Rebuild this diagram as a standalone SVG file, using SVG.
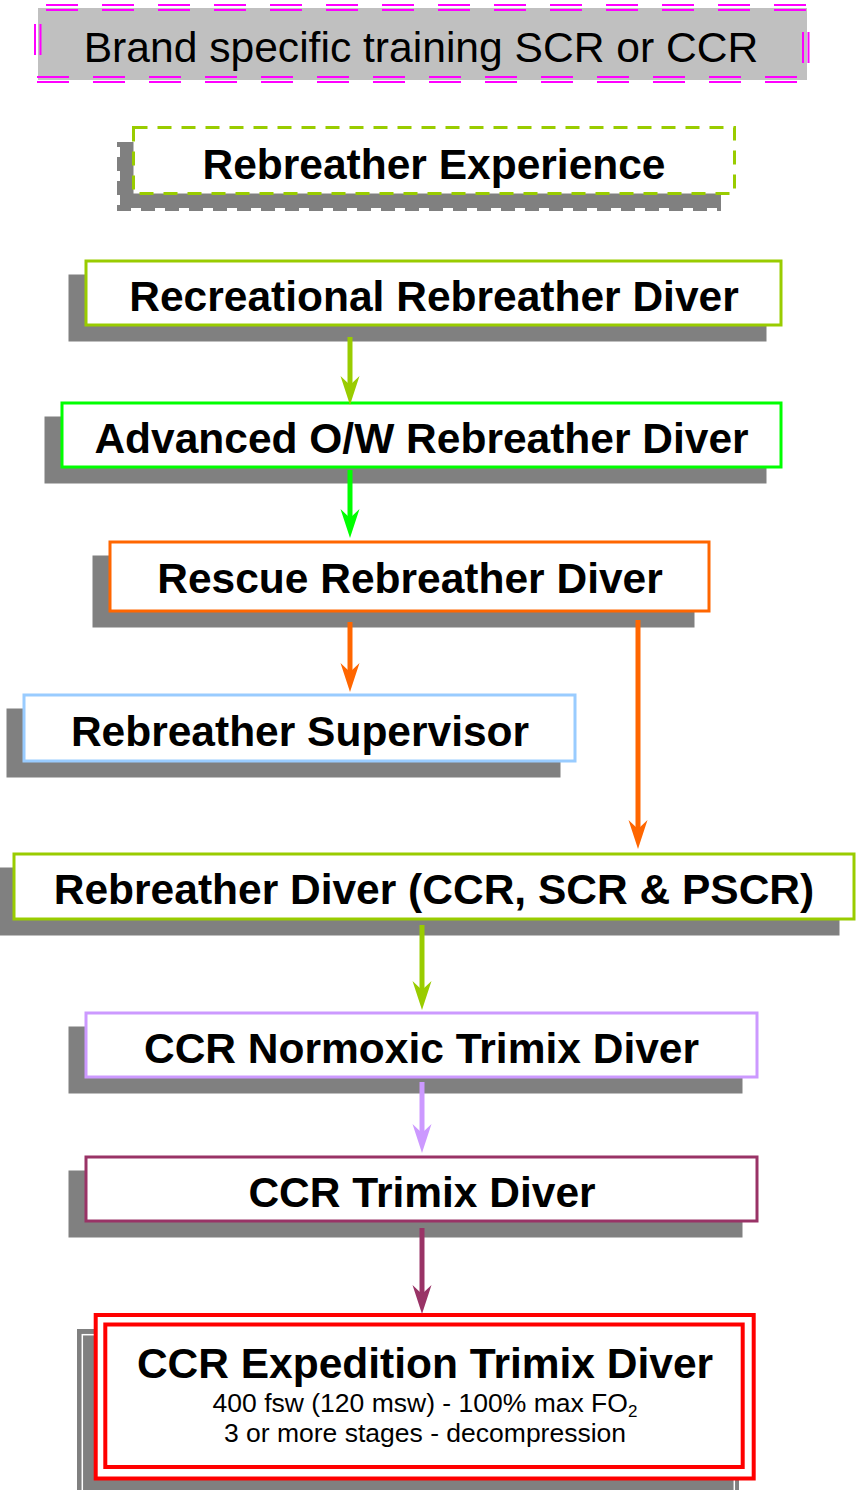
<svg xmlns="http://www.w3.org/2000/svg" width="861" height="1490" viewBox="0 0 861 1490">
<style>
.sh{fill:#808080}
.box{fill:#fff;stroke-width:3}
.t{font-family:"Liberation Sans",Arial,sans-serif;font-weight:bold;font-size:42.5px;text-anchor:middle;fill:#000}
.s{font-family:"Liberation Sans",Arial,sans-serif;font-size:26.5px;text-anchor:middle;fill:#000}
.mg{stroke:#ff00ff;stroke-width:2;fill:none}
.c{fill:none;stroke-width:5}
</style>
<defs>
<marker id="aG" markerUnits="userSpaceOnUse" markerWidth="30" markerHeight="20" viewBox="0 -10 30 20" refX="11" refY="0" orient="auto"><path d="M0,-9.5 L29,0 L0,9.5 L9,0 Z" fill="#99cc00"/></marker>
<marker id="aB" markerUnits="userSpaceOnUse" markerWidth="30" markerHeight="20" viewBox="0 -10 30 20" refX="11" refY="0" orient="auto"><path d="M0,-9.5 L29,0 L0,9.5 L9,0 Z" fill="#00ff00"/></marker>
<marker id="aO" markerUnits="userSpaceOnUse" markerWidth="30" markerHeight="20" viewBox="0 -10 30 20" refX="11" refY="0" orient="auto"><path d="M0,-9.5 L29,0 L0,9.5 L9,0 Z" fill="#ff6600"/></marker>
<marker id="aL" markerUnits="userSpaceOnUse" markerWidth="30" markerHeight="20" viewBox="0 -10 30 20" refX="11" refY="0" orient="auto"><path d="M0,-9.5 L29,0 L0,9.5 L9,0 Z" fill="#cc99ff"/></marker>
<marker id="aP" markerUnits="userSpaceOnUse" markerWidth="30" markerHeight="20" viewBox="0 -10 30 20" refX="11" refY="0" orient="auto"><path d="M0,-9.5 L29,0 L0,9.5 L9,0 Z" fill="#993366"/></marker>
</defs>

<g id="brand">
<rect x="38" y="8" width="769" height="72" fill="#c0c0c0"/>
<path class="mg" stroke-dasharray="32 24" d="M46,5 H808 M46,10 H808"/>
<path class="mg" stroke-dasharray="32 24" d="M37,82 H808 M37,77 H808"/>
<path class="mg" d="M35,24 V55 M40.5,24 V55 M803,32 V63 M808.5,32 V63"/>
<text x="421" y="62" font-family="Liberation Sans, Arial, sans-serif" font-size="42.6" text-anchor="middle">Brand specific training SCR or CCR</text>
</g>

<g id="experience">
<rect x="120" y="145" width="598" height="63" fill="#808080" stroke="#808080" stroke-width="6" stroke-dasharray="14 10"/>
<rect x="133.5" y="127.5" width="601" height="66" fill="#fff" stroke="#99cc00" stroke-width="3" stroke-dasharray="14 10"/>
<text class="t" x="434" y="179">Rebreather Experience</text>
</g>

<g id="recreational">
<rect class="sh" x="68.5" y="274.5" width="698" height="67"/>
<rect class="box" x="86" y="261" width="695" height="64" stroke="#99cc00"/>
<text class="t" x="434" y="311">Recreational Rebreather Diver</text>
</g>

<g id="advanced">
<rect class="sh" x="44.5" y="416.5" width="722" height="67"/>
<rect class="box" x="62" y="403" width="719" height="64" stroke="#00ff00"/>
<text class="t" x="421.5" y="453">Advanced O/W Rebreather Diver</text>
</g>

<g id="rescue">
<rect class="sh" x="92.5" y="555.5" width="602" height="72"/>
<rect class="box" x="110" y="542" width="599" height="69" stroke="#ff6600"/>
<text class="t" x="410" y="593">Rescue Rebreather Diver</text>
</g>

<g id="supervisor">
<rect class="sh" x="6.5" y="708.5" width="554" height="69"/>
<rect class="box" x="24" y="695" width="551" height="66" stroke="#99ccff"/>
<text class="t" x="300" y="746">Rebreather Supervisor</text>
</g>

<g id="rebreather-diver">
<rect class="sh" x="-3.5" y="867.5" width="843" height="68"/>
<rect class="box" x="14" y="854" width="840" height="65" stroke="#99cc00"/>
<text class="t" x="434" y="904">Rebreather Diver (CCR, SCR &amp; PSCR)</text>
</g>

<g id="normoxic">
<rect class="sh" x="68.5" y="1026.5" width="674" height="67"/>
<rect class="box" x="86" y="1013" width="671" height="64" stroke="#cc99ff"/>
<text class="t" x="421.5" y="1063">CCR Normoxic Trimix Diver</text>
</g>

<g id="trimix">
<rect class="sh" x="68.5" y="1170.5" width="674" height="67"/>
<rect class="box" x="86" y="1157" width="671" height="64" stroke="#993366"/>
<text class="t" x="422" y="1207">CCR Trimix Diver</text>
</g>

<g id="expedition">
<rect x="77" y="1329" width="662" height="170" fill="#808080"/>
<rect x="82.3" y="1334.7" width="652" height="170" fill="none" stroke="#fff" stroke-width="1.5"/>
<rect x="95.7" y="1315" width="658" height="163.5" fill="#fff" stroke="#ff0000" stroke-width="4"/>
<rect x="105.3" y="1324.5" width="637.4" height="142.5" fill="none" stroke="#ff0000" stroke-width="4"/>
<text class="t" x="425" y="1378">CCR Expedition Trimix Diver</text>
<text class="s" x="425" y="1412">400 fsw (120 msw) - 100% max FO<tspan font-size="17" dy="5">2</tspan></text>
<text class="s" x="425" y="1442">3 or more stages - decompression</text>
</g>

<g id="connectors">
<line class="c" stroke="#99cc00" x1="350" y1="337" x2="350" y2="387" marker-end="url(#aG)"/>
<line class="c" stroke="#00ff00" x1="350" y1="470" x2="350" y2="520" marker-end="url(#aB)"/>
<line class="c" stroke="#ff6600" x1="350" y1="622" x2="350" y2="674" marker-end="url(#aO)"/>
<line class="c" stroke="#ff6600" x1="638" y1="620" x2="638" y2="831" marker-end="url(#aO)"/>
<line class="c" stroke="#99cc00" x1="422" y1="925" x2="422" y2="992" marker-end="url(#aG)"/>
<line class="c" stroke="#cc99ff" x1="422" y1="1082" x2="422" y2="1135" marker-end="url(#aL)"/>
<line class="c" stroke="#993366" x1="422" y1="1228" x2="422" y2="1296" marker-end="url(#aP)"/>
</g>
</svg>
